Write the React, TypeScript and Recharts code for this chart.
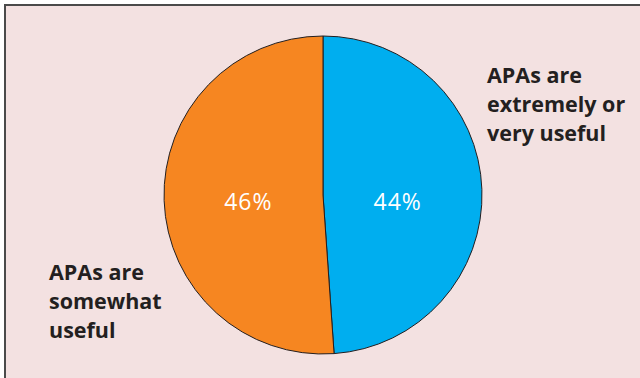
import React from 'react';
import { PieChart, Pie, Cell } from 'recharts';

const categories = ['APAs are extremely or very useful', 'APAs are somewhat useful'];
const shares = [44, 46];
const sliceColors = ['#00AEEF', '#F68621'];
const rightLabelLines = ['APAs are', 'extremely or', 'very useful'];
const leftLabelLines = ['APAs are', 'somewhat', 'useful'];

const chartData = categories.map((name, i) => ({ name, value: shares[i] }));

const RADIAN = Math.PI / 180;

const renderPercent = (props: any) => {
  const { cx, cy, midAngle, outerRadius, value } = props;
  const r = outerRadius * 0.47;
  const x = cx + r * Math.cos(-midAngle * RADIAN);
  return (
    <text
      x={x}
      y={cy + 6}
      fill="#ffffff"
      textAnchor="middle"
      dominantBaseline="central"
      fontFamily="'Open Sans', sans-serif"
      fontSize={23}
      letterSpacing={1}
    >
      {`${value}%`}
    </text>
  );
};

const labelStyle: React.CSSProperties = {
  position: 'absolute',
  fontFamily: "'Open Sans', sans-serif",
  fontWeight: 700,
  fontSize: 21.5,
  lineHeight: '29px',
  color: '#231f20',
};

const App: React.FC = () => {
  return (
    <div style={{ position: 'absolute', left: 0, top: 0, width: 640, height: 378, background: '#ffffff', overflow: 'hidden' }}>
      <div
        style={{
          position: 'absolute',
          left: 4,
          top: 4,
          width: 650,
          height: 390,
          background: '#f3e1e1',
          border: '2px solid #4a4a4a',
        }}
      />
      <div style={{ position: 'absolute', left: 0, top: 0 }}>
        <PieChart width={640} height={378} margin={{ top: 0, right: 0, bottom: 0, left: 0 }}>
          <Pie
            data={chartData}
            dataKey="value"
            nameKey="name"
            cx={323}
            cy={195}
            outerRadius={159}
            startAngle={90}
            endAngle={-270}
            stroke="#231f20"
            strokeWidth={1}
            label={renderPercent}
            labelLine={false}
            isAnimationActive={false}
          >
            {chartData.map((d, i) => (
              <Cell key={d.name} fill={sliceColors[i]} />
            ))}
          </Pie>
        </PieChart>
      </div>
      <div style={{ ...labelStyle, left: 487, top: 60 }}>
        {rightLabelLines.map((l) => (
          <div key={l}>{l}</div>
        ))}
      </div>
      <div style={{ ...labelStyle, left: 49, top: 257 }}>
        {leftLabelLines.map((l) => (
          <div key={l}>{l}</div>
        ))}
      </div>
    </div>
  );
};

export default App;
